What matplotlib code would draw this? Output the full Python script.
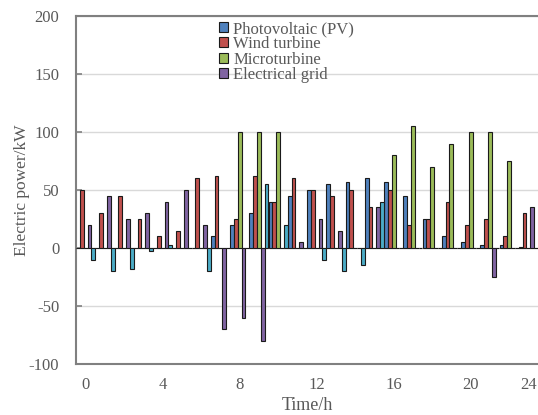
import numpy as np
import matplotlib
matplotlib.use('Agg')
import matplotlib.pyplot as plt

plt.rcParams['font.family'] = ['Liberation Serif', 'DejaVu Serif']
plt.rcParams['axes.unicode_minus'] = False

hours = np.arange(24)
tick_pos = [0, 4, 8, 12, 16, 20, 23]
tick_lab = ['0', '4', '8', '12', '16', '20', '24']

pv = [0, 0, 0, 0, 0, 0, 0, 10, 20, 30, 40, 45, 50, 55, 57, 60, 57, 45, 25, 10, 5, 3, 3, 1]
wind = [50, 30, 45, 25, 10, 15, 60, 62, 25, 62, 40, 60, 50, 45, 50, 35, 50, 20, 25, 40, 20, 25, 10, 30]
micro = [0, 0, 0, 0, 0, 0, 0, 0, 100, 100, 100, 0, 0, 0, 0, 0, 80, 105, 70, 90, 100, 100, 75, 0]
grid = [20, 45, 25, 30, 40, 50, 20, -70, -60, -80, 0, 5, 25, 15, 0, 35, 0, 0, 0, 0, 0, -25, 0, 35]
battery = [-10, -20, -18, -3, 3, 0, -20, 0, 0, 55, 20, 0, -10, -20, -15, 40, 0, 0, 0, 0, 0, 0, 0, 0]

series = [
    ('Photovoltaic (PV)', pv, '#4F81BD'),
    ('Wind turbine', wind, '#C0504D'),
    ('Microturbine', micro, '#9BBB59'),
    ('Electrical grid', grid, '#8064A2'),
    ('_nolegend_', battery, '#4BACC6'),
]

fig = plt.figure(figsize=(5.38, 4.15), dpi=100)
ax = fig.add_axes([76 / 538, 51 / 415, 462 / 538, 348 / 415])

w = 0.2
for i, (name, vals, col) in enumerate(series):
    ax.bar(hours + (i - 2) * w, vals, width=w, color=col, edgecolor='#1a1a1a',
           linewidth=0.8, label=name, zorder=3)

ax.set_xlim(-0.5, 23.5)
ax.set_ylim(-100, 200)
ax.set_yticks(np.arange(-100, 201, 50))
ax.set_xticks(tick_pos)
ax.set_xticklabels(tick_lab)
ax.yaxis.grid(True, color='#D9D9D9', linewidth=1, zorder=0)
ax.set_axisbelow(True)

for s in ['left', 'bottom', 'top']:
    ax.spines[s].set_color('#808080')
    ax.spines[s].set_linewidth(1.5)
ax.spines['right'].set_visible(False)

ax.tick_params(axis='y', direction='in', length=4, width=1.2, color='#808080',
               labelsize=12, labelcolor='#595959', pad=12)
ax.tick_params(axis='x', length=0, labelsize=12, labelcolor='#595959', pad=9)

ax.set_xlabel('Time/h', fontsize=13, color='#595959', labelpad=3)
ax.set_ylabel('Electric power/kW', fontsize=12.5, color='#595959', labelpad=-1)

ax.legend(loc='upper left', bbox_to_anchor=(219 / 538, 1 - 21 / 415),
          bbox_transform=fig.transFigure, frameon=False, fontsize=12,
          labelcolor='#595959', handlelength=0.55, handleheight=0.55,
          handletextpad=0.3, labelspacing=-0.04, borderpad=0, borderaxespad=0)

plt.savefig('out.png', dpi=100)
